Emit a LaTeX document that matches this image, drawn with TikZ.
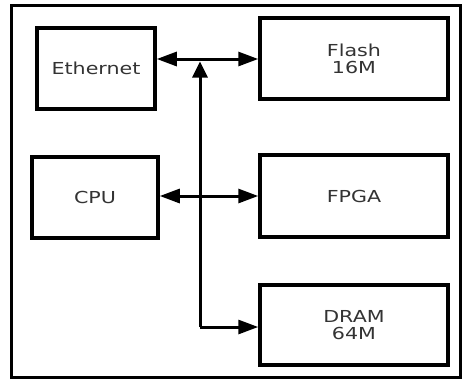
\documentclass[tikz,border=0pt]{standalone}
\usepackage{fontspec}
\usetikzlibrary{arrows.meta,positioning,calc}
\newfontfamily\boxfont[FakeStretch=1.25]{DejaVu Sans}
\definecolor{ink}{HTML}{333333}
\tikzset{
  blk/.style={draw,line width=3.5bp,minimum width=188bp,minimum height=81bp,inner sep=0pt,
    text=ink,align=center,font=\boxfont\fontsize{16.5bp}{17bp}\selectfont},
  bus/.style={line width=3bp,{Triangle[length=20bp,width=14bp]}-{Triangle[length=20bp,width=14bp]}}}

\begin{document}
\begin{tikzpicture}[x=1bp,y=-1bp]
\useasboundingbox (0,0) rectangle (469,379);
\draw[line width=3bp] (11,5) rectangle (460,377);
\node[blk,minimum width=118bp] (eth) at (96,68.5){Ethernet};
\node[blk,minimum width=126bp] (cpu) at (95,197.5){CPU};
\node[blk] (flash) at (354,58.5){Flash\\16M};
\node[blk,minimum height=82bp] (fpga) at (354,196){FPGA};
\node[blk,minimum height=80bp] (dram) at (354,325){DRAM\\64M};
\coordinate (top) at (200,59);\coordinate (mid) at (200,196);\coordinate (bot) at (200,327);
\draw[bus] (eth.east |- top)--(flash.west |- top);
\draw[bus] (cpu.east |- mid)--(fpga.west |- mid);
\draw[line width=3bp,-{Triangle[length=16bp,width=15bp]}] (bot)--($(top)+(0,2.5)$);
\draw[line width=3bp,-{Triangle[length=20bp,width=14bp]}] (bot)--(dram.west |- bot);
\end{tikzpicture}
\end{document}
